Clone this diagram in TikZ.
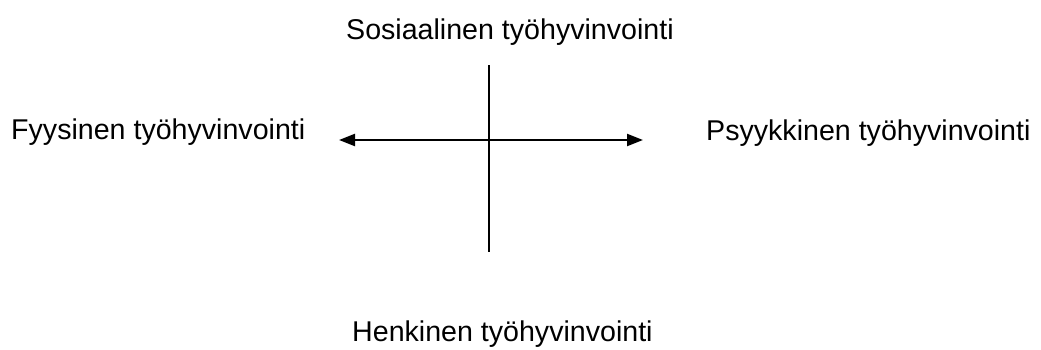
\documentclass[tikz,border=0pt]{standalone}
\usepackage{fontspec}
\setmainfont{Liberation Sans}
\usetikzlibrary{arrows.meta}
\tikzset{
  lbl/.style={inner sep=0pt,font=\fontsize{28.6}{34}\selectfont},
  axis/.style={line width=2.2pt,black},
}
\begin{document}
\begin{tikzpicture}[x=1pt,y=-1pt]
  \useasboundingbox (0,0) rectangle (1041,349);
  % labels
  \node[lbl,anchor=base west] (soc) at (346,39){Sosiaalinen työhyvinvointi};
  \node[lbl,anchor=base west] (fys) at (11,139){Fyysinen työhyvinvointi};
  \node[lbl,anchor=base west] (psy) at (706,140){Psyykkinen työhyvinvointi};
  \node[lbl,anchor=base west] (hen) at (352,341){Henkinen työhyvinvointi};
  % axes
  \coordinate (lt) at (339,140);
  \coordinate (rt) at (643,140);
  \coordinate (top) at (489,65);
  \coordinate (bot) at (489,252);
  \draw[axis,{Triangle[length=16pt,width=12pt]}-{Triangle[length=16pt,width=12pt]}] (lt)--(rt);
  \draw[axis] (top)--(bot);
\end{tikzpicture}
\end{document}
